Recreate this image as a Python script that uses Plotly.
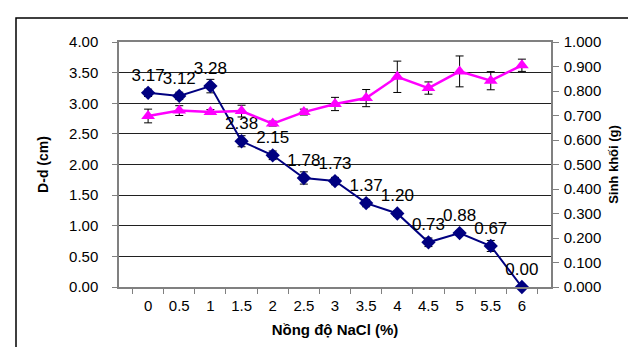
import plotly.graph_objects as go

nacl = ["0", "0.5", "1", "1.5", "2", "2.5", "3", "3.5", "4", "4.5", "5", "5.5", "6"]
dd_cm = [3.17, 3.12, 3.28, 2.38, 2.15, 1.78, 1.73, 1.37, 1.20, 0.73, 0.88, 0.67, 0.00]
dd_err = [0.06, 0.06, 0.11, 0.09, 0.07, 0.10, 0.06, 0.06, 0.05, 0.07, 0.04, 0.09, 0.0]
biomass_g = [0.698, 0.720, 0.714, 0.718, 0.667, 0.714, 0.747, 0.771, 0.858, 0.812, 0.880, 0.842, 0.905]
biomass_err = [0.028, 0.020, 0.010, 0.024, 0.010, 0.012, 0.027, 0.035, 0.064, 0.025, 0.063, 0.037, 0.025]
dd_labels = [f"{v:.2f}" for v in dd_cm]

FONT = "Arial, Liberation Sans, sans-serif"

fig = go.Figure()

fig.add_trace(go.Scatter(
    x=nacl, y=biomass_g, yaxis="y2", mode="lines+markers",
    line=dict(color="#FF00FF", width=2.5),
    marker=dict(symbol="triangle-up", size=12, color="#FF00FF"),
    error_y=dict(type="data", array=biomass_err, visible=True,
                 color="black", thickness=1, width=4),
    showlegend=False, cliponaxis=False,
))

fig.add_trace(go.Scatter(
    x=nacl, y=dd_cm, mode="lines+markers+text",
    line=dict(color="#000080", width=2),
    marker=dict(symbol="diamond", size=11, color="#000080"),
    error_y=dict(type="data", array=dd_err, visible=True,
                 color="black", thickness=1, width=4),
    text=dd_labels, textposition="top center",
    textfont=dict(family=FONT, size=17, color="black"),
    showlegend=False, cliponaxis=False,
))

fig.update_layout(
    width=636, height=347,
    margin=dict(l=111, r=93, t=34, b=68),
    paper_bgcolor="white", plot_bgcolor="white",
    font=dict(family=FONT, size=15, color="black"),
    xaxis=dict(
        type="category", tickson="boundaries", ticks="outside", ticklen=5,
        tickcolor="#808080", showline=True, linecolor="#808080", linewidth=1.5,
        mirror=True, showgrid=False, ticklabelstandoff=4,
        title=dict(text="<b>Nồng độ NaCl (%)</b>", font=dict(size=15), standoff=12),
        tickfont=dict(size=15),
    ),
    yaxis=dict(
        range=[0, 4], dtick=0.5, tickformat=".2f", ticks="outside", ticklen=5,
        tickcolor="#808080", showline=True, linecolor="#808080", linewidth=1.5,
        showgrid=True, gridcolor="#202020", gridwidth=1, zeroline=False,
        ticklabelstandoff=11,
        title=dict(text="<b>D-d (cm)</b>", font=dict(size=14), standoff=17),
        tickfont=dict(size=15),
    ),
    yaxis2=dict(
        overlaying="y", side="right", range=[0, 1], dtick=0.1, tickformat=".3f",
        ticks="outside", ticklen=6, tickcolor="#808080",
        showline=True, linecolor="#808080", linewidth=1.5,
        showgrid=False, zeroline=False, ticklabelstandoff=2,
        title=dict(text="<b>Sinh khối (g)</b>", font=dict(size=13), standoff=9),
        tickfont=dict(size=15),
    ),
    shapes=[dict(
        type="rect", xref="paper", yref="paper",
        x0=(8 - 111) / 432, x1=(660 - 111) / 432,
        y0=(279 - 370) / 245, y1=(279 - 10) / 245,
        line=dict(color="black", width=1.5), fillcolor="rgba(0,0,0,0)",
        layer="below",
    )],
)

fig.write_html("out.html")
